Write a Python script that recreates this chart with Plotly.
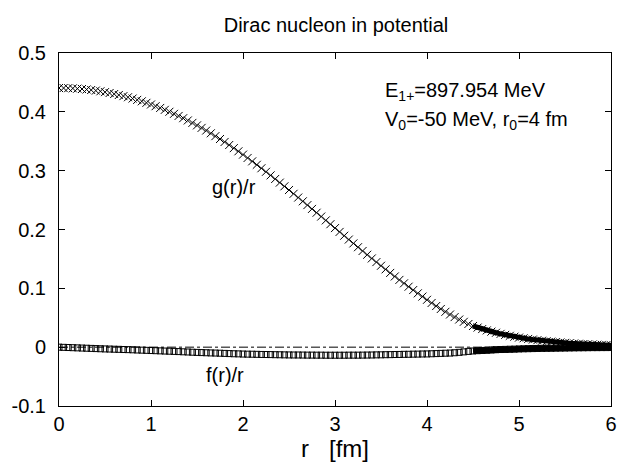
import numpy as np
import plotly.graph_objects as go

# radial grid, fm (0.05 fm steps)
r_fm = np.round(np.arange(121) * 0.05, 2)

# upper component g(r)/r
g_over_r = [
    0.4405, 0.4404, 0.4402, 0.4399, 0.4394, 0.4388, 0.4380, 0.4371, 0.4361, 0.4349,
    0.4335, 0.4320, 0.4303, 0.4286, 0.4267, 0.4248, 0.4226, 0.4203, 0.4179, 0.4153,
    0.4125, 0.4096, 0.4066, 0.4034, 0.4001, 0.3966, 0.3930, 0.3892, 0.3853, 0.3812,
    0.3770, 0.3727, 0.3682, 0.3635, 0.3587, 0.3538, 0.3488, 0.3436, 0.3383, 0.3329,
    0.3273, 0.3216, 0.3158, 0.3100, 0.3041, 0.2981, 0.2920, 0.2859, 0.2797, 0.2734,
    0.2671, 0.2607, 0.2543, 0.2479, 0.2415, 0.2350, 0.2285, 0.2220, 0.2155, 0.2090,
    0.2024, 0.1959, 0.1894, 0.1829, 0.1764, 0.1699, 0.1635, 0.1571, 0.1508, 0.1446,
    0.1384, 0.1323, 0.1262, 0.1202, 0.1143, 0.1085, 0.1028, 0.0971, 0.0915, 0.0860,
    0.0805, 0.0751, 0.0699, 0.0649, 0.0601, 0.0555, 0.0511, 0.0470, 0.0431, 0.0394,
    0.0360, 0.0333, 0.0308, 0.0285, 0.0264, 0.0245, 0.0226, 0.0209, 0.0193, 0.0178,
    0.0163, 0.0151, 0.0140, 0.0129, 0.0119, 0.0109, 0.0101, 0.0094, 0.0087, 0.0080,
    0.0073, 0.0068, 0.0063, 0.0058, 0.0053, 0.0049, 0.0045, 0.0042, 0.0039, 0.0036,
    0.0033,
]

# lower component f(r)/r
f_over_r = [
    0.0000, -0.0003, -0.0006, -0.0009, -0.0012, -0.0015, -0.0018, -0.0021, -0.0024, -0.0027,
    -0.0030, -0.0032, -0.0035, -0.0037, -0.0040, -0.0042, -0.0045, -0.0048, -0.0051, -0.0054,
    -0.0057, -0.0060, -0.0063, -0.0066, -0.0069, -0.0072, -0.0075, -0.0079, -0.0082, -0.0086,
    -0.0089, -0.0092, -0.0095, -0.0098, -0.0100, -0.0103, -0.0106, -0.0109, -0.0112, -0.0114,
    -0.0117, -0.0119, -0.0120, -0.0122, -0.0124, -0.0125, -0.0126, -0.0128, -0.0129, -0.0131,
    -0.0132, -0.0133, -0.0133, -0.0134, -0.0135, -0.0135, -0.0136, -0.0136, -0.0137, -0.0137,
    -0.0137, -0.0137, -0.0137, -0.0136, -0.0136, -0.0136, -0.0135, -0.0134, -0.0133, -0.0131,
    -0.0130, -0.0128, -0.0127, -0.0125, -0.0124, -0.0122, -0.0121, -0.0119, -0.0118, -0.0116,
    -0.0115, -0.0112, -0.0109, -0.0106, -0.0103, -0.0100, -0.0095, -0.0088, -0.0080, -0.0072,
    -0.0065, -0.0060, -0.0056, -0.0052, -0.0047, -0.0043, -0.0040, -0.0038, -0.0035, -0.0033,
    -0.0030, -0.0028, -0.0026, -0.0024, -0.0022, -0.0020, -0.0019, -0.0018, -0.0016, -0.0015,
    -0.0014, -0.0013, -0.0012, -0.0011, -0.0010, -0.0009, -0.0008, -0.0008, -0.0007, -0.0007,
    -0.0006,
]

x_ticks = [0, 1, 2, 3, 4, 5, 6]
y_ticks = [-0.1, 0, 0.1, 0.2, 0.3, 0.4, 0.5]
y_tick_text = ["-0.1", "0", "0.1", "0.2", "0.3", "0.4", "0.5"]

FONT = "Liberation Sans, Arial, sans-serif"
FS = 20
tail = 90  # from r = 4.5 fm the points are drawn as a solid band

fig = go.Figure()
fig.add_trace(go.Scatter(
    x=r_fm[tail:], y=f_over_r[tail:], mode="lines",
    line=dict(color="black", width=6), hoverinfo="skip",
))
fig.add_trace(go.Scatter(
    x=r_fm[tail:], y=g_over_r[tail:], mode="lines",
    line=dict(color="black", width=5), hoverinfo="skip",
))
fig.add_trace(go.Scatter(
    x=r_fm, y=f_over_r, mode="markers", name="f(r)/r",
    marker=dict(symbol="square-open", size=6, color="black",
                line=dict(color="black", width=1)),
))
fig.add_trace(go.Scatter(
    x=r_fm, y=g_over_r, mode="markers", name="g(r)/r",
    marker=dict(symbol="x-thin", size=8, color="black",
                line=dict(color="black", width=1)),
))

# dash-dot zero axis
fig.add_shape(type="line", xref="x domain", yref="y", x0=0, x1=1, y0=0, y1=0,
              line=dict(color="black", width=1, dash="dashdot"), layer="below")

fig.add_annotation(x=1.9, y=0.272, text="g(r)/r", showarrow=False,
                   xanchor="center", font=dict(size=FS))
fig.add_annotation(x=1.8, y=-0.048, text="f(r)/r", showarrow=False,
                   xanchor="center", font=dict(size=FS))
fig.add_annotation(x=3.52, y=0.434, text="E<sub>1+</sub>=897.954 MeV", showarrow=False,
                   xanchor="left", font=dict(size=FS))
fig.add_annotation(x=3.52, y=0.385, text="V<sub>0</sub>=-50 MeV, r<sub>0</sub>=4 fm",
                   showarrow=False, xanchor="left", font=dict(size=FS))

axis_common = dict(
    showline=True, linecolor="black", linewidth=1, mirror="ticks",
    ticks="inside", ticklen=6, tickcolor="black", showgrid=False, zeroline=False,
)
fig.update_layout(
    width=620, height=470,
    paper_bgcolor="white", plot_bgcolor="white",
    font=dict(family=FONT, size=FS, color="black"),
    title=dict(text="Dirac nucleon in potential", x=0.542, xanchor="center",
               xref="container", y=0.947, yanchor="middle", font=dict(size=FS)),
    showlegend=False,
    margin=dict(l=59, r=9, t=53, b=64, autoexpand=False),
    xaxis=dict(range=[0, 6], tickvals=x_ticks, ticklabeloverflow="allow",
               title=dict(text="r\u00a0\u00a0\u00a0[fm]", standoff=6), **axis_common),
    yaxis=dict(range=[-0.1, 0.5], tickvals=y_ticks, ticktext=y_tick_text,
               ticklabelstandoff=8, **axis_common),
)

# drop the page margin so the figure fills the window exactly
fig.write_html("out.html", config={"displayModeBar": False},
               post_script="document.body.style.margin='0';"
                           "document.body.style.overflow='hidden';")
